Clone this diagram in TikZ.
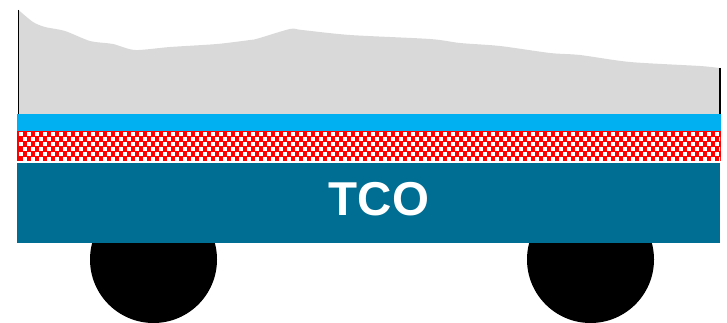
\documentclass[tikz,border=0pt]{standalone}
\usepackage{fontspec}
\setmainfont{Liberation Sans}
\definecolor{dustgrey}{RGB}{217,217,217}
\definecolor{layerblue}{RGB}{0,176,240}
\definecolor{tcoblue}{RGB}{0,110,146}
\definecolor{absred}{RGB}{255,0,0}
\tikzset{
  layer/.style={draw=none},
  wheel/.style={circle, fill=black, draw=none, minimum size=127pt, inner sep=0pt},
  edge/.style={draw=black, line width=1.6pt},
  dot/.style={fill=white, draw=none},
  label/.style={text=white, font=\bfseries\fontsize{47.5}{50}\selectfont, inner sep=0pt, anchor=base}
}
\begin{document}
\begin{tikzpicture}[x=1pt, y=-1pt]
  \useasboundingbox (0,0) rectangle (727,323);

  % wheels, partly hidden behind the substrate
  \node[wheel] (wheelL) at (153.5,259.5) {};
  \node[wheel] (wheelR) at (590.5,259.5) {};

  % rough top surface
  \fill[dustgrey] (18.5,114) -- plot[smooth, tension=0.45] coordinates {
    (18.5,10) (33,22) (45,27) (65,31) (90,41) (113,44) (135,50) (170,47)
    (217,44) (250,40) (258,38.5) (290,29) (302,30) (350,35) (430,39)
    (460,43) (500,46) (550,53) (580,55) (630,62) (700,66) (719,68)}
    -- (719,114) -- cycle;
  \draw[edge] (18.5,10) -- (18.5,114);
  \draw[edge] (720,68) -- (720,114);

  % thin blue layer
  \fill[layerblue, layer] (17,114) rectangle (721,131);

  % red absorber with white dot pattern
  \fill[absred] (17,131) rectangle (721,161.5);
  \begin{scope}
    \clip (18,132) rectangle (720,160.5);
    \foreach \r in {0,...,5} {
      \pgfmathsetmacro{\yy}{132.5+5*\r}
      \pgfmathsetmacro{\off}{mod(\r,2)*4}
      \foreach \c in {0,...,88} {
        \fill[dot] ({19+\c*8+\off},\yy) rectangle ++(3.6,3.4);
      }
    }
  \end{scope}

  % transparent conductive oxide
  \fill[tcoblue, layer] (17,163) rectangle (720,243);
  \node[label] (tco) at (379,215.7) {TCO};
\end{tikzpicture}
\end{document}
